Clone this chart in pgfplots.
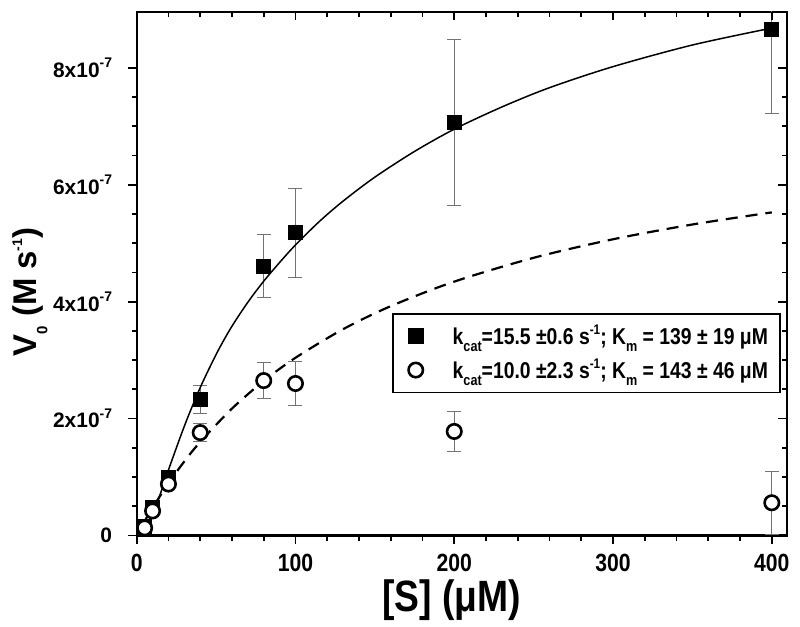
\documentclass[border=0pt]{standalone}
\usepackage{pgfplots}
\pgfplotsset{compat=1.18}
\usepackage{fontspec}
\setmainfont{Liberation Sans}
\newfontfamily\narrowfont[FakeStretch=0.85]{Liberation Sans}
\newfontfamily\legfont[FakeStretch=0.845]{Liberation Sans}
\newcommand\subx[1]{\raisebox{-0.6ex}{\fontsize{7.5}{8}\selectfont #1}}
\newcommand\supx[1]{\raisebox{0.85ex}{\fontsize{7}{8}\selectfont #1}}
\begin{document}
\begin{tikzpicture}
\begin{axis}[
  scale only axis, width=325bp, height=261.9bp,
  xmin=0, xmax=409.4, ymin=0, ymax=8.96,
  axis line style={line width=1.1bp},
  tick style={line width=0.9bp, black},
  major tick length=4.3bp, minor tick length=2.5bp,
  tick align=outside, xtick pos=left, ytick pos=left,
  xtick={0,100,200,300,400}, minor x tick num=4,
  xticklabels={0,100,200,300,400},
  ytick={0,2,4,6,8}, minor y tick num=3,
  yticklabels={0, 2x10\supx{-7}, 4x10\supx{-7}, 6x10\supx{-7}, 8x10\supx{-7}},
  xticklabel style={font=\narrowfont\bfseries\fontsize{12.5}{14}\selectfont, yshift=-1.5bp},
  yticklabel style={font=\bfseries\fontsize{10.5}{12}\selectfont, xshift=-4.5bp},
  xlabel={[S] (μM)}, ylabel={V\subx{0} (M s\supx{-1})},
  xlabel style={font=\narrowfont\bfseries\fontsize{22}{24}\selectfont, at={(axis description cs:0.4845,-0.124)}, anchor=center},
  ylabel style={font=\bfseries\fontsize{16.5}{20}\selectfont, at={(axis description cs:-0.164,0.465)}, anchor=center},
  legend style={draw=black, line width=0.9bp, at={(0.991,0.425)}, anchor=north east,
    font=\legfont\bfseries\fontsize{11.5}{14}\selectfont, inner xsep=0bp, inner ysep=3.5bp, row sep=1.5bp},
  legend cell align=left,
]
\addplot[only marks, mark=square*, mark size=3.5bp, black,
  legend image code/.code={\path[draw=none] (-11.5bp,0) -- (16.5bp,0); \draw[only marks] plot coordinates {(0bp,0bp)};},
  error bars/.cd, y dir=both, y explicit,
  error bar style={black!55, line width=0.5bp},
  error mark options={rotate=90, black!55, mark size=3.5bp, line width=0.5bp}]
  table[x=x, y=y, y error=e] {
x y e
5 0.15 0.05
10 0.48 0.05
20 0.99 0.06
40 2.32 0.24
80 4.61 0.54
100 5.18 0.76
200 7.07 1.42
400 8.65 1.43
};
\addlegendentry{k\subx{cat}=15.5 ±0.6 s\supx{-1}; K\subx{m} = 139 ± 19 μM\hspace*{4bp}}
\addplot[only marks, mark=*, mark size=3.6bp, black, mark options={fill=white, line width=1.3bp},
  legend image code/.code={\path[draw=none] (-11.5bp,0) -- (16.5bp,0); \draw[only marks] plot coordinates {(0bp,0bp)};},
  error bars/.cd, y dir=both, y explicit,
  error bar style={black!55, line width=0.5bp},
  error mark options={rotate=90, black!55, mark size=3.5bp, line width=0.5bp}]
  table[x=x, y=y, y error=e] {
x y e
5 0.13 0.04
10 0.42 0.05
20 0.88 0.06
40 1.76 0.16
80 2.65 0.31
100 2.60 0.37
200 1.78 0.34
400 0.56 0.54
};
\addlegendentry{k\subx{cat}=10.0 ±2.3 s\supx{-1}; K\subx{m} = 143 ± 46 μM\hspace*{4bp}}
\addplot[black, line width=0.75bp, smooth, forget plot] coordinates {
(5,0.12) (10,0.36) (15,0.72) (20,1.12) (25,1.50) (30,1.87) (35,2.21) (40,2.53)
(45,2.82) (52,3.20) (60,3.58) (70,3.99) (80,4.35) (90,4.67) (100,4.97) (115,5.37)
(130,5.72) (150,6.13) (175,6.57) (200,6.95) (230,7.33) (260,7.66) (300,8.02)
(350,8.39) (400,8.68)};
\addplot[black, line width=1.1bp, dash pattern=on 6bp off 4bp, smooth, forget plot] coordinates {
(5,0.245) (10,0.475) (20,0.894) (30,1.267) (40,1.600) (60,2.171) (80,2.643)
(100,3.040) (130,3.529) (160,3.923) (200,4.343) (250,4.750) (300,5.067)
(350,5.320) (400,5.527)};
\end{axis}
\begin{axis}[
  scale only axis, width=325bp, height=261.9bp,
  xmin=0, xmax=409.4, ymin=0, ymax=8.96,
  axis line style={draw=none},
  tick style={line width=0.9bp, black},
  major tick length=4.3bp, minor tick length=2.5bp,
  tick align=inside, xtick pos=right, ytick pos=right,
  xtick={0,100,200,300,400}, minor x tick num=4,
  ytick={0,2,4,6,8}, minor y tick num=3,
  xticklabels={}, yticklabels={},
]
\end{axis}
\pgfresetboundingbox
\path (current axis.south west) ++(-68.35bp,-45.75bp) rectangle ([shift={(6.65bp,5.85bp)}]current axis.north east);
\end{tikzpicture}
\end{document}
